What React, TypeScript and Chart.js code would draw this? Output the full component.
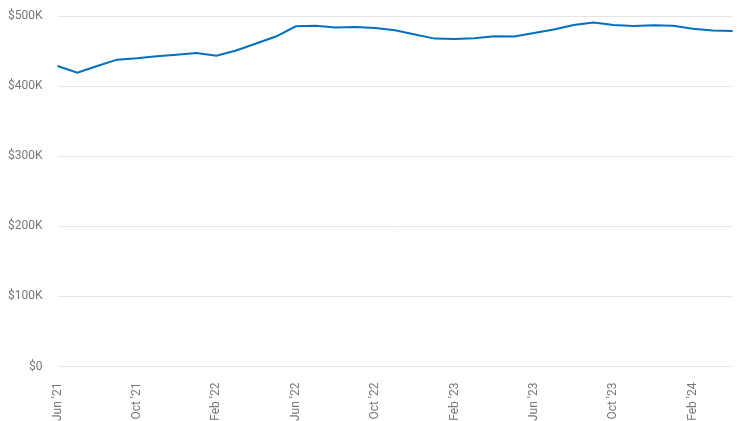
import { useEffect, useRef } from "react";
import { Chart } from "chart.js/auto";

const months = [
  "Jun '21", "Jul '21", "Aug '21", "Sep '21", "Oct '21", "Nov '21", "Dec '21",
  "Jan '22", "Feb '22", "Mar '22", "Apr '22", "May '22", "Jun '22", "Jul '22",
  "Aug '22", "Sep '22", "Oct '22", "Nov '22", "Dec '22", "Jan '23", "Feb '23",
  "Mar '23", "Apr '23", "May '23", "Jun '23", "Jul '23", "Aug '23", "Sep '23",
  "Oct '23", "Nov '23", "Dec '23", "Jan '24", "Feb '24", "Mar '24", "Apr '24",
];

const prices = [
  429000, 419500, 429000, 438000, 440000, 443000, 445000,
  447500, 443500, 451000, 461000, 471000, 485500, 486500,
  484000, 484500, 483000, 480000, 474000, 468000, 467500,
  468500, 471500, 471000, 476000, 481000, 487500, 491000,
  487500, 486000, 487000, 486500, 482000, 479500, 479000,
];

const yTicks = [0, 100000, 200000, 300000, 400000, 500000];

export default function App() {
  const chartRef = useRef<HTMLCanvasElement>(null);

  useEffect(() => {
    if (!chartRef.current) return;
    const ctx = chartRef.current.getContext("2d");
    if (!ctx) return;

    const myChart = new Chart(ctx, {
      type: "line",
      data: {
        labels: months,
        datasets: [{
          data: prices,
          borderColor: "#0070c0",
          borderWidth: 2,
          pointRadius: 0,
          tension: 0,
          fill: false,
        }],
      },
      options: {
        responsive: true,
        maintainAspectRatio: false,
        animation: false,
        plugins: {
          legend: { display: false },
          tooltip: { enabled: false },
        },
        scales: {
          x: {
            grid: { display: false },
            border: { display: false },
            ticks: {
              autoSkip: false,
              maxRotation: 90,
              minRotation: 90,
              padding: 8,
              color: "#777",
              font: { family: "Roboto", size: 12 },
              callback: (_v, i) => (i % 4 === 0 ? months[i] : ""),
            },
          },
          y: {
            min: yTicks[0],
            max: yTicks[yTicks.length - 1],
            grid: { color: "#e6e6e6", drawTicks: false },
            border: { display: false },
            afterBuildTicks: (axis) => {
              axis.ticks = yTicks.map((v) => ({ value: v }));
            },
            ticks: {
              padding: 15,
              color: "#777",
              font: { family: "Roboto", size: 12 },
              callback: (v) => (Number(v) === 0 ? "$0" : `$${Number(v) / 1000}K`),
            },
          },
        },
      },
    });

    return () => {
      myChart.destroy();
    };
  }, []);

  return (
    <div style={{ position: "fixed", top: -6, left: -7, width: 762, height: 435, overflow: "hidden" }}>
      <canvas ref={chartRef} />
    </div>
  );
}
